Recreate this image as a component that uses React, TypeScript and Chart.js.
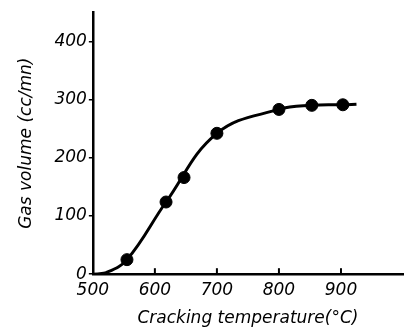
import React, { useEffect, useRef } from "react";
import { Chart, registerables } from "chart.js";

Chart.register(...registerables);

const measuredTemps = [555, 618, 647, 700, 800, 853, 903];
const measuredVolumes = [25, 124, 166, 242, 283, 290, 291];
const curveTemps = [500, 520, 555, 618, 700, 800, 853, 903, 925];
const curveVolumes = [0, 2, 25, 124, 242, 283, 290, 291, 292];
const xTickValues = [500, 600, 700, 800, 900];
const yTickValues = [0, 100, 200, 300, 400];

const FONT = "'DejaVu Sans', sans-serif";

const upTicks = {
  id: "upTicks",
  afterDraw(chart: any) {
    const ctx = chart.ctx;
    const xs = chart.scales.x;
    const y0 = chart.chartArea.bottom;
    ctx.save();
    ctx.strokeStyle = "#000";
    ctx.lineWidth = 2;
    xTickValues.slice(1).forEach((v) => {
      const px = xs.getPixelForValue(v);
      ctx.beginPath();
      ctx.moveTo(px, y0);
      ctx.lineTo(px, y0 - 6);
      ctx.stroke();
    });
    ctx.restore();
  },
};

export default function App() {
  const ref = useRef<HTMLCanvasElement>(null);
  useEffect(() => {
    document.body.style.margin = "0";
    const chart = new Chart(ref.current!, {
      type: "line",
      data: {
        datasets: [
          {
            data: curveTemps.map((t, i) => ({ x: t, y: curveVolumes[i] })),
            borderColor: "#000",
            borderWidth: 3,
            pointRadius: 0,
            tension: 0.4,
            fill: false,
          },
          {
            data: measuredTemps.map((t, i) => ({ x: t, y: measuredVolumes[i] })),
            showLine: false,
            pointRadius: 6,
            pointBackgroundColor: "#000",
            pointBorderColor: "#000",
          },
        ],
      },
      options: {
        animation: false,
        responsive: false,
        layout: { padding: { top: 10, right: 12, left: 16, bottom: 4 } },
        plugins: { legend: { display: false }, tooltip: { enabled: false } },
        scales: {
          x: {
            type: "linear",
            min: 500,
            max: 1000,
            afterBuildTicks: (s: any) => {
              s.ticks = xTickValues.map((v) => ({ value: v }));
            },
            grid: { display: false, drawTicks: false },
            border: { display: true, color: "#000", width: 2.5 },
            ticks: {
              color: "#000",
              padding: 6,
              maxRotation: 0,
              font: { family: FONT, size: 17, style: "italic" },
            },
            title: {
              display: true,
              text: "Cracking temperature(°C)",
              color: "#000",
              padding: { top: 2, bottom: 0 },
              font: { family: FONT, size: 17, style: "italic" },
            },
          },
          y: {
            type: "linear",
            min: 0,
            max: 450,
            afterBuildTicks: (s: any) => {
              s.ticks = yTickValues.map((v) => ({ value: v }));
            },
            grid: { drawOnChartArea: false, drawTicks: true, tickLength: 4, color: "#000", lineWidth: 1.5 },
            border: { display: true, color: "#000", width: 2.5 },
            ticks: {
              color: "#000",
              padding: 2,
              font: { family: FONT, size: 17, style: "italic" },
            },
            title: {
              display: true,
              text: "Gas volume (cc/mn)",
              color: "#000",
              padding: { top: 0, bottom: 16 },
              font: { family: FONT, size: 17, style: "italic" },
            },
          },
        },
      },
      plugins: [upTicks],
    } as any);
    return () => chart.destroy();
  }, []);
  return (
    <div style={{ width: 415, height: 333 }}>
      <canvas ref={ref} width={415} height={333} />
    </div>
  );
}
